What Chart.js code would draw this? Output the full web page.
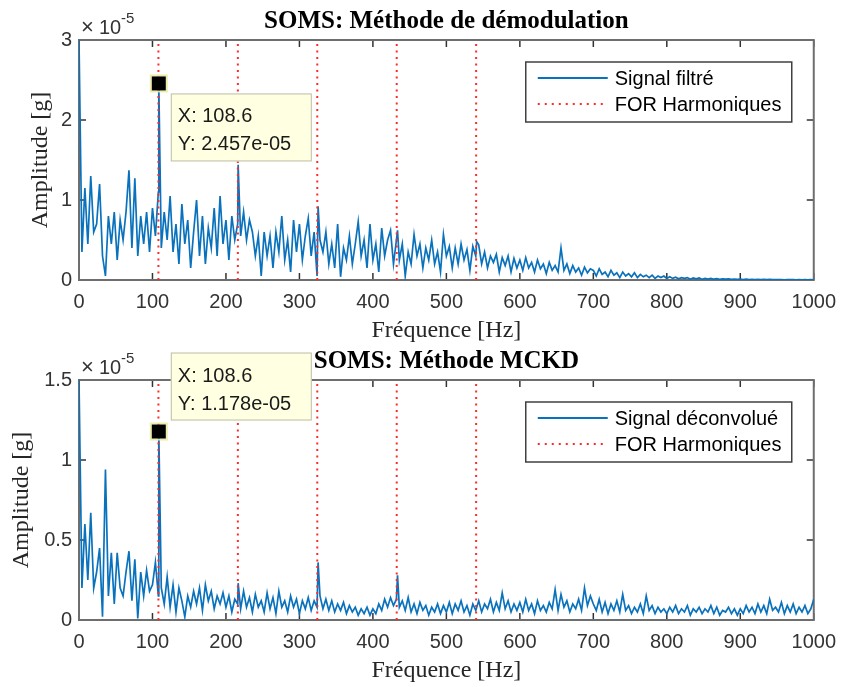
<!DOCTYPE html>
<html>
<head>
<meta charset="utf-8">
<title>SOMS spectres</title>
<script src="https://cdn.jsdelivr.net/npm/chart.js@4/dist/chart.umd.min.js"></script>
<style>
  body { margin: 0; background: #fff; }
  #wrap { position: relative; width: 846px; height: 687px; }
  canvas { position: absolute; left: 0; }
</style>
</head>
<body>
<div id="wrap">
  <canvas id="chartDemod" width="846" height="346" style="top:0px"></canvas>
  <canvas id="chartMckd" width="846" height="347" style="top:340px"></canvas>
</div>
<script>
// spectrum bins every 4 Hz, amplitudes in units of 1e-5 g
const FREQ_STEP_HZ = 4;

// FOR harmonics (Hz)
const harmonicsHz = [108.1, 216.2, 324.3, 432.4, 540.5];

// SOMS: démodulation (signal filtré), 0..1000 Hz
const filtreAmp = [
  3.0, 0.35, 1.15, 0.45, 1.3, 0.6, 0.7, 1.2, 0.3, 0.05, 0.8, 0.45, 0.85, 0.25, 0.75, 0.5, 0.85, 1.37, 0.4, 1.27, 0.3, 0.8, 0.45, 0.85, 0.35,
  0.9, 0.55, 1.1, 0.4, 0.85, 0.5, 1.05, 0.35, 0.7, 0.2, 0.95, 0.45, 0.75, 0.15, 0.6, 1.0, 0.3, 0.8, 0.2, 0.65, 0.4, 0.9, 0.3, 1.05, 0.45,
  0.75, 0.25, 0.8, 0.5, 0.7, 0.55, 0.85, 0.5, 0.75, 0.6, 0.3, 0.55, 0.05, 0.6, 0.3, 0.55, 0.15, 0.6, 0.35, 0.8, 0.25, 0.5, 0.1, 0.75, 0.35,
  0.7, 0.25, 0.55, 0.77, 0.3, 0.6, 0.05, 0.5, 0.35, 0.6, 0.2, 0.45, 0.15, 0.7, 0.04, 0.4, 0.25, 0.55, 0.2, 0.45, 0.73, 0.3, 0.5, 0.15, 0.7,
  0.25, 0.45, 0.1, 0.65, 0.3, 0.5, 0.62, 0.2, 0.5, 0.25, 0.45, 0.05, 0.35, 0.2, 0.57, 0.3, 0.45, 0.15, 0.4, 0.25, 0.5, 0.2, 0.35, 0.1, 0.57,
  0.3, 0.42, 0.15, 0.4, 0.2, 0.45, 0.25, 0.38, 0.12, 0.42, 0.3, 0.44, 0.2, 0.35, 0.15, 0.3, 0.22, 0.32, 0.1, 0.28, 0.18, 0.3, 0.1, 0.27, 0.15,
  0.25, 0.12, 0.28, 0.15, 0.22, 0.1, 0.25, 0.14, 0.2, 0.08, 0.22, 0.12, 0.18, 0.1, 0.4, 0.12, 0.2, 0.08, 0.18, 0.1, 0.15, 0.06, 0.16, 0.09, 0.14,
  0.12, 0.05, 0.14, 0.07, 0.1, 0.04, 0.12, 0.06, 0.09, 0.03, 0.1, 0.05, 0.08, 0.04, 0.09, 0.03, 0.07, 0.04, 0.06, 0.03, 0.06, 0.02, 0.05, 0.03, 0.05,
  0.02, 0.04, 0.02, 0.035, 0.015, 0.03, 0.02, 0.03, 0.01, 0.025, 0.015, 0.025, 0.01, 0.02, 0.012, 0.02, 0.01, 0.018, 0.008, 0.015, 0.01, 0.014, 0.007, 0.012, 0.008,
  0.012, 0.006, 0.01, 0.005, 0.009, 0.006, 0.008, 0.004, 0.007, 0.005, 0.007, 0.004, 0.006, 0.004, 0.006, 0.003, 0.005, 0.004, 0.005, 0.003, 0.005, 0.003, 0.004, 0.003, 0.004, 0.003
];
const filtrePeakHz  = [108.6, 216.6, 325.4, 433.5, 541.2];
const filtrePeakAmp = [2.457, 1.44, 0.92, 0.62, 0.48];

// SOMS: MCKD (signal déconvolué), 0..1000 Hz
const deconvAmp = [
  1.5, 0.2, 0.6, 0.25, 0.67, 0.2, 0.3, 0.45, 0.02, 0.94, 0.15, 0.42, 0.1, 0.42, 0.2, 0.15, 0.3, 0.43, 0.12, 0.38, 0.01, 0.3, 0.15, 0.31, 0.18,
  0.22, 0.36, 0.15, 0.2, 0.1, 0.27, 0.08, 0.22, 0.05, 0.2, 0.12, 0.02, 0.15, 0.08, 0.18, 0.1, 0.2, 0.06, 0.22, 0.12, 0.18, 0.07, 0.15, 0.1, 0.17,
  0.08, 0.15, 0.05, 0.13, 0.1, 0.07, 0.18, 0.08, 0.14, 0.05, 0.16, 0.08, 0.12, 0.05, 0.17, 0.07, 0.14, 0.04, 0.18, 0.08, 0.12, 0.05, 0.15, 0.08, 0.13,
  0.04, 0.12, 0.07, 0.14, 0.06, 0.12, 0.08, 0.15, 0.07, 0.13, 0.06, 0.12, 0.05, 0.1, 0.06, 0.11, 0.04, 0.09, 0.05, 0.08, 0.03, 0.07, 0.04, 0.08, 0.03,
  0.07, 0.04, 0.1, 0.06, 0.13, 0.08, 0.14, 0.09, 0.13, 0.08, 0.12, 0.06, 0.14, 0.05, 0.1, 0.04, 0.11, 0.06, 0.09, 0.03, 0.08, 0.05, 0.1, 0.04, 0.09,
  0.05, 0.11, 0.04, 0.1, 0.06, 0.12, 0.05, 0.09, 0.03, 0.1, 0.06, 0.12, 0.05, 0.1, 0.07, 0.13, 0.05, 0.11, 0.06, 0.17, 0.07, 0.12, 0.05, 0.1, 0.06,
  0.11, 0.05, 0.13, 0.06, 0.1, 0.04, 0.12, 0.06, 0.09, 0.05, 0.11, 0.07, 0.19, 0.06, 0.16, 0.08, 0.12, 0.05, 0.1, 0.07, 0.13, 0.06, 0.2, 0.09, 0.15,
  0.1, 0.06, 0.13, 0.05, 0.11, 0.04, 0.1, 0.06, 0.12, 0.05, 0.16, 0.06, 0.09, 0.04, 0.08, 0.05, 0.1, 0.04, 0.15, 0.06, 0.09, 0.04, 0.08, 0.05, 0.07,
  0.04, 0.08, 0.05, 0.09, 0.04, 0.07, 0.05, 0.09, 0.03, 0.07, 0.05, 0.08, 0.04, 0.07, 0.05, 0.09, 0.04, 0.08, 0.03, 0.06, 0.05, 0.08, 0.04, 0.07, 0.03,
  0.07, 0.04, 0.09, 0.05, 0.08, 0.04, 0.1, 0.05, 0.09, 0.04, 0.13, 0.06, 0.08, 0.05, 0.11, 0.04, 0.09, 0.05, 0.1, 0.04, 0.08, 0.05, 0.09, 0.04, 0.07, 0.13
];
const deconvPeakHz  = [108.6, 216.6, 325.4, 433.5];
const deconvPeakAmp = [1.178, 0.23, 0.36, 0.28];

// data tips (X, Y) shown on each plot
const tipHz  = [108.6, 108.6];
const tipAmp = [2.457, 1.178];

const BLUE = '#0a72bd';
const RED = '#ff2a2a';
const SANS = '"Liberation Sans", Arial, sans-serif';
const SERIF = '"Liberation Serif", "Times New Roman", serif';

function buildSeries(amps, peakHz, peakAmp) {
  const pts = amps.map((a, i) => ({ x: i * FREQ_STEP_HZ, y: a }));
  peakHz.forEach((f, i) => pts.push({ x: f, y: peakAmp[i] }));
  return pts.sort((p, q) => p.x - q.x);
}

function harmonicLines(yMax) {
  // vertical segments separated by gaps
  return harmonicsHz.flatMap(f => [{ x: f, y: 0 }, { x: f, y: yMax }, { x: f, y: null }]);
}

// MATLAB-like decorations: box, inner ticks, titles, legend, data tip
const somsPlugin = {
  id: 'soms',
  beforeDatasetsDraw(chart) {
    const ctx = chart.ctx, a = chart.chartArea;
    const xs = chart.scales.x, ys = chart.scales.y;
    ctx.save();
    ctx.strokeStyle = '#333';
    ctx.lineWidth = 1.5;
    ctx.beginPath();
    xs.ticks.forEach(t => {
      const px = xs.getPixelForValue(t.value);
      ctx.moveTo(px, a.bottom); ctx.lineTo(px, a.bottom - 7);
      ctx.moveTo(px, a.top); ctx.lineTo(px, a.top + 7);
    });
    ys.ticks.forEach(t => {
      const py = ys.getPixelForValue(t.value);
      ctx.moveTo(a.left, py); ctx.lineTo(a.left + 7, py);
      ctx.moveTo(a.right, py); ctx.lineTo(a.right - 7, py);
    });
    ctx.stroke();
    ctx.strokeStyle = '#6e6e6e';
    ctx.lineWidth = 2;
    ctx.strokeRect(a.left, a.top, a.right - a.left, a.bottom - a.top);
    ctx.restore();
  },
  afterDraw(chart, args, o) {
    const ctx = chart.ctx, a = chart.chartArea;
    const xs = chart.scales.x, ys = chart.scales.y;
    const cx = (a.left + a.right) / 2;
    ctx.save();
    ctx.fillStyle = '#000';

    // title
    ctx.font = 'bold 25px ' + SERIF;
    ctx.textAlign = 'center';
    ctx.textBaseline = 'alphabetic';
    ctx.fillText(o.title, cx, 28);

    // x label
    ctx.fillStyle = '#262626';
    ctx.font = '24px ' + SERIF;
    ctx.fillText('Fréquence [Hz]', cx, 337);

    // y label
    ctx.save();
    ctx.translate(o.yLabelX, (a.top + a.bottom) / 2);
    ctx.rotate(-Math.PI / 2);
    ctx.fillText('Amplitude [g]', 0, 0);
    ctx.restore();

    // exponent
    ctx.textAlign = 'left';
    ctx.fillStyle = '#333';
    ctx.font = '22px ' + SANS;
    ctx.fillText('\u00d7', a.left + 2, a.top - 6);
    ctx.font = '20px ' + SANS;
    ctx.fillText('10', a.left + 20, a.top - 6);
    ctx.font = '15px ' + SANS;
    ctx.fillText('-5', a.left + 42, a.top - 17);

    // legend
    const lw = 266, lh = 60;
    const lx = a.right - 22 - lw, ly = a.top + 22;
    ctx.fillStyle = '#fff';
    ctx.fillRect(lx, ly, lw, lh);
    ctx.strokeStyle = '#404040';
    ctx.lineWidth = 1.5;
    ctx.strokeRect(lx, ly, lw, lh);
    const row1 = ly + 16, row2 = ly + 42;
    ctx.lineWidth = 2;
    ctx.strokeStyle = BLUE;
    ctx.beginPath(); ctx.moveTo(lx + 12, row1); ctx.lineTo(lx + 82, row1); ctx.stroke();
    ctx.strokeStyle = RED;
    ctx.lineWidth = 2;
    ctx.setLineDash([2, 5]);
    ctx.beginPath(); ctx.moveTo(lx + 12, row2); ctx.lineTo(lx + 82, row2); ctx.stroke();
    ctx.setLineDash([]);
    ctx.fillStyle = '#000';
    ctx.font = '20px ' + SANS;
    ctx.textBaseline = 'middle';
    ctx.fillText(chart.data.datasets[0].label, lx + 89, row1 + 1);
    ctx.fillText(chart.data.datasets[1].label, lx + 89, row2 + 1);

    // data tip
    const hz = tipHz[o.tip], amp = tipAmp[o.tip];
    const mx = xs.getPixelForValue(hz), my = ys.getPixelForValue(amp);
    const bx = mx + 12, by = o.tipAbove ? my - 79 : my + 10;
    ctx.fillStyle = '#ffffe1';
    ctx.fillRect(bx, by, 141, 68);
    ctx.strokeStyle = '#bdbdaa';
    ctx.lineWidth = 1;
    ctx.strokeRect(bx + 0.5, by + 0.5, 140, 67);
    ctx.fillStyle = '#000';
    ctx.strokeStyle = 'rgba(235, 235, 160, 0.9)';
    ctx.lineWidth = 2;
    ctx.strokeRect(mx - 8, my - 8, 16, 16);
    ctx.fillRect(mx - 7, my - 7, 14, 14);
    ctx.font = '20px ' + SANS;
    ctx.textBaseline = 'alphabetic';
    ctx.fillStyle = '#1a1a1a';
    ctx.fillText('X: ' + hz.toFixed(1), bx + 7, by + 29);
    ctx.fillText('Y: ' + amp.toFixed(3) + 'e-05', bx + 7, by + 57);
    ctx.restore();
  }
};

function makeChart(id, signal, signalLabel, yMax, yStep, opts) {
  const canvas = document.getElementById(id);
  const xHeight = canvas.height - 280;
  return new Chart(canvas, {
    type: 'line',
    data: {
      datasets: [
        { label: signalLabel, data: signal, borderColor: BLUE, borderWidth: 1.7, pointRadius: 0, tension: 0, order: 2 },
        { label: 'FOR Harmoniques', data: harmonicLines(yMax), borderColor: RED, borderWidth: 2,
          borderDash: [2, 4.5], pointRadius: 0, spanGaps: false, order: 1 }
      ]
    },
    options: {
      responsive: false,
      animation: false,
      devicePixelRatio: 1,
      layout: { padding: { top: 40, right: 27, bottom: 0, left: 0 } },
      plugins: {
        legend: { display: false },
        title: { display: false },
        tooltip: { enabled: false },
        soms: opts
      },
      scales: {
        x: {
          type: 'linear', min: 0, max: 1000,
          ticks: { stepSize: 100, padding: 10, maxRotation: 0, autoSkip: false, color: '#333',
                   font: { family: SANS, size: 20 }, callback: v => String(v) },
          grid: { display: false, drawTicks: false },
          border: { display: false },
          afterFit: s => { s.height = xHeight; }
        },
        y: {
          type: 'linear', min: 0, max: yMax,
          ticks: { stepSize: yStep, padding: 7, color: '#333',
                   font: { family: SANS, size: 20 }, callback: v => String(v) },
          grid: { display: false, drawTicks: false },
          border: { display: false },
          afterFit: s => { s.width = 79; }
        }
      }
    },
    plugins: [somsPlugin]
  });
}

makeChart('chartDemod', buildSeries(filtreAmp, filtrePeakHz, filtrePeakAmp), 'Signal filtré', 3, 1,
  { title: 'SOMS: Méthode de démodulation', yLabelX: 47, tip: 0, tipAbove: false });

makeChart('chartMckd', buildSeries(deconvAmp, deconvPeakHz, deconvPeakAmp), 'Signal déconvolué', 1.5, 0.5,
  { title: 'SOMS: Méthode MCKD', yLabelX: 28, tip: 1, tipAbove: true });
</script>
</body>
</html>
